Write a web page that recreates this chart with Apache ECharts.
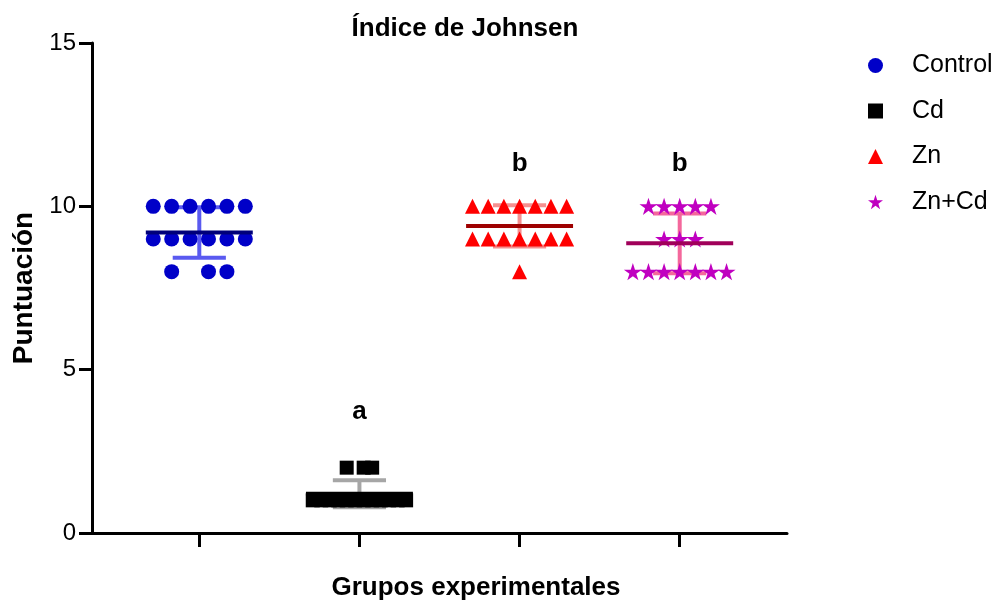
<!DOCTYPE html>
<html>
<head>
<meta charset="utf-8">
<script src="https://cdn.jsdelivr.net/npm/echarts@6/dist/echarts.min.js"></script>
<style>
  html, body { margin: 0; padding: 0; background: #fff; }
  #chart { width: 995px; height: 603px; }
</style>
</head>
<body>
<div id="chart"></div>
<script>
// Johnsen score per animal, one list per experimental group
const groups = ['Control', 'Cd', 'Zn', 'Zn+Cd'];
const control = [10, 10, 10, 10, 10, 10, 9, 9, 9, 9, 9, 9, 8, 8, 8];
const cd = [1, 1, 1, 1, 1, 1, 1, 1, 1, 1, 1, 1, 2, 2, 2];
const zn = [10, 10, 10, 10, 10, 10, 10, 9, 9, 9, 9, 9, 9, 9, 8];
const znCd = [10, 10, 10, 10, 10, 9, 9, 9, 8, 8, 8, 8, 8, 8, 8];
const significance = ['', 'a', 'b', 'b'];
const yTicks = [0, 5, 10, 15];

const groupValues = [control, cd, zn, znCd];

// ---- styling / layout ----
const FONT = '"Liberation Sans", Arial, Helvetica, sans-serif';
const markerColors = ['#0000c8', '#000000', '#ff0000', '#c000c0'];
const barColors = ['#5a5af0', '#a6a6a6', '#f59090', '#f4689c'];
const meanColors = ['#00007a', '#000000', '#9e0000', '#a0005a'];
const STAR = 'path://M50,0 L61.2,34.5 L97.6,34.5 L68.2,55.9 L79.4,90.5 L50,69.1 L20.6,90.5 L31.8,55.9 L2.4,34.5 L38.8,34.5 Z';
const symbols = ['circle', 'rect', 'triangle', STAR];
const symbolSizes = [15, 14, 15, 18];
const spread = [0.115, 0.053, 0.098, 0.0975];   // step between neighbouring points, in group units
const rowPattern = { 'Control|8': [-1.5, 0.5, 1.5], 'Cd|2': [-1.5, 0.5, 1.5] };
const meanHalf = 0.334;   // half width of the mean line
const capHalf = 0.166;    // half width of the error-bar caps
const letterY = [0, 3.7, 11.3, 11.3];

// spread tied values side by side around the group centre
function swarm(vals, gi) {
  const counts = {};
  vals.forEach(v => { counts[v] = (counts[v] || 0) + 1; });
  const seen = {};
  return vals.map(v => {
    const k = counts[v];
    seen[v] = (seen[v] === undefined) ? 0 : seen[v] + 1;
    const i = seen[v];
    const pat = rowPattern[groups[gi] + '|' + v];
    const slot = pat ? pat[i] : i - (k - 1) / 2;
    return [gi + 1 + slot * spread[gi], v];
  });
}

function stats(vals) {
  const n = vals.length;
  const m = vals.reduce((a, b) => a + b, 0) / n;
  const sd = Math.sqrt(vals.reduce((a, b) => a + (b - m) * (b - m), 0) / (n - 1));
  return [m, sd];
}

const summary = groupValues.map((v, i) => {
  const s = stats(v);
  return [i + 1, s[0], s[1], i];
});

const scatterSeries = groupValues.map((vals, gi) => ({
  name: groups[gi],
  type: 'scatter',
  z: 2,
  symbol: symbols[gi],
  symbolSize: symbolSizes[gi],
  symbolKeepAspect: true,
  itemStyle: { color: markerColors[gi], opacity: 1 },
  emphasis: { disabled: true },
  data: swarm(vals, gi)
}));

const errorSeries = {
  type: 'custom',
  z: 1,
  silent: true,
  encode: { x: 0, y: 1 },
  data: summary,
  renderItem(params, api) {
    const x = api.value(0), m = api.value(1), s = api.value(2), gi = api.value(3);
    const top = api.coord([x, m + s]);
    const bot = api.coord([x, m - s]);
    const hw = api.size([capHalf, 0])[0];
    const st = { stroke: barColors[gi], lineWidth: 4 };
    return {
      type: 'group',
      children: [
        { type: 'line', shape: { x1: top[0], y1: top[1], x2: bot[0], y2: bot[1] }, style: st },
        { type: 'line', shape: { x1: top[0] - hw, y1: top[1], x2: top[0] + hw, y2: top[1] }, style: st },
        { type: 'line', shape: { x1: bot[0] - hw, y1: bot[1], x2: bot[0] + hw, y2: bot[1] }, style: st }
      ]
    };
  }
};

const meanSeries = {
  type: 'custom',
  z: 3,
  silent: true,
  encode: { x: 0, y: 1 },
  data: summary,
  renderItem(params, api) {
    const x = api.value(0), m = api.value(1), gi = api.value(3);
    const c = api.coord([x, m]);
    const hw = api.size([meanHalf, 0])[0];
    return {
      type: 'line',
      shape: { x1: c[0] - hw, y1: c[1], x2: c[0] + hw, y2: c[1] },
      style: { stroke: meanColors[gi], lineWidth: 4 }
    };
  }
};

// significance letters above the groups
const letterData = significance.map((t, i) => [i + 1, letterY[i], i]).filter(d => significance[d[2]]);
const letterSeries = {
  type: 'custom',
  z: 4,
  silent: true,
  encode: { x: 0, y: 1 },
  data: letterData,
  renderItem(params, api) {
    const c = api.coord([api.value(0), api.value(1)]);
    return {
      type: 'text',
      x: c[0], y: c[1],
      style: {
        text: significance[api.value(2)],
        fill: '#000',
        font: 'bold 26px ' + FONT,
        align: 'center',
        verticalAlign: 'middle'
      }
    };
  }
};

const axisLine = { show: true, onZero: false, lineStyle: { color: '#000', width: 3 } };

const chart = echarts.init(document.getElementById('chart'), null, { renderer: 'canvas' });
chart.setOption({
  backgroundColor: '#ffffff',
  animation: false,
  textStyle: { fontFamily: FONT },
  title: [
    {
      text: 'Índice de Johnsen',
      left: 460, top: 11, textAlign: 'center',
      textStyle: { fontFamily: FONT, fontSize: 26, fontWeight: 'bold', color: '#000' }
    },
    {
      text: 'Grupos experimentales',
      left: 471, top: 570, textAlign: 'center',
      textStyle: { fontFamily: FONT, fontSize: 26, fontWeight: 'bold', color: '#000' }
    }
  ],
  legend: {
    orient: 'vertical',
    left: 863, top: 48,
    itemWidth: 15, itemHeight: 15, itemGap: 20.5,
    selectedMode: false,
    data: groups,
    textStyle: { fontFamily: FONT, fontSize: 25, color: '#000', padding: [0, 0, 0, 24] }
  },
  grid: { left: 92, right: 208, top: 43, bottom: 70, containLabel: false, outerBoundsMode: 'none' },
  xAxis: {
    type: 'value',
    min: 0.33, max: 4.67,
    axisLine: axisLine,
    axisTick: { show: true, customValues: [1, 2, 3, 4], length: 14, lineStyle: { color: '#000', width: 3 } },
    axisLabel: { show: false },
    splitLine: { show: false }
  },
  yAxis: {
    type: 'value',
    min: yTicks[0], max: yTicks[yTicks.length - 1], interval: yTicks[1] - yTicks[0],
    axisLine: axisLine,
    axisTick: { show: true, length: 13, lineStyle: { color: '#000', width: 3 } },
    axisLabel: { fontFamily: FONT, fontSize: 24, color: '#000', margin: 16 },
    splitLine: { show: false },
    name: 'Puntuación',
    nameLocation: 'middle',
    nameGap: 54,
    nameTextStyle: { fontFamily: FONT, fontSize: 28, fontWeight: 'bold', color: '#000' }
  },
  series: [errorSeries, ...scatterSeries, meanSeries, letterSeries]
});
</script>
</body>
</html>
